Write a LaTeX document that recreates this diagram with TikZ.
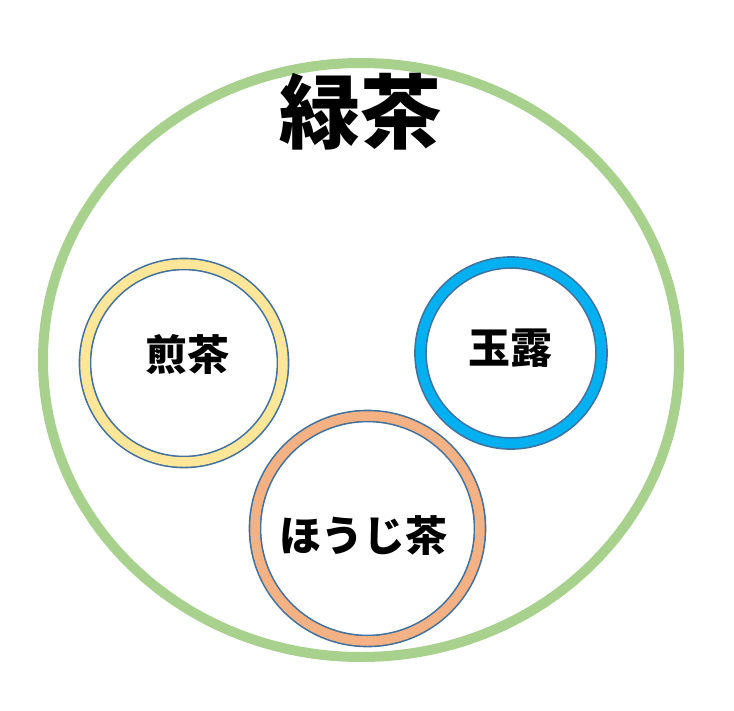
\documentclass[tikz,border=0pt]{standalone}
\usepackage{fontspec}
\newfontfamily\cjk{Noto Sans CJK JP}[BoldFont={Noto Sans CJK JP Black}]
\usetikzlibrary{shapes.geometric}
\definecolor{ringgreen}{HTML}{A9D18E}
\definecolor{ringyellow}{HTML}{FFE699}
\definecolor{ringblue}{HTML}{00B0F0}
\definecolor{ringorange}{HTML}{F4B183}
\definecolor{ringedge}{HTML}{41719C}
\tikzset{
  bigring/.style={ellipse, draw=ringgreen, line width=10pt, inner sep=0pt},
  teacircle/.style={circle, inner sep=0pt, draw=ringedge, line width=1.6pt, double distance=9.5pt, double=#1},
  tealabel/.style={font=\cjk\bfseries\fontsize{42}{48}\selectfont, inner sep=0pt},
  titlelabel/.style={font=\cjk\bfseries\fontsize{81}{90}\selectfont, inner sep=0pt}
}
\begin{document}
\begin{tikzpicture}[x=1pt,y=-1pt]
\useasboundingbox (0,0) rectangle (734,710);
\fill[white] (0,0) rectangle (734,710);
\node[bigring, minimum width=636pt, minimum height=594pt] (greentea) at (361,360) {};
\node[titlelabel] (title) at (360,112) {緑茶};
\node[teacircle=ringyellow, minimum size=198pt] (sencha) at (184,363) {};
\node[tealabel] (senchalabel) at (187,355) {煎茶};
\node[teacircle=ringblue, minimum size=181pt] (gyokuro) at (511,353) {};
\node[tealabel] (gyokurolabel) at (510,348) {玉露};
\node[teacircle=ringorange, minimum size=225pt] (houjicha) at (367.5,528.5) {};
\node[tealabel] (houjichalabel) at (363,536) {ほうじ茶};
\end{tikzpicture}
\end{document}
